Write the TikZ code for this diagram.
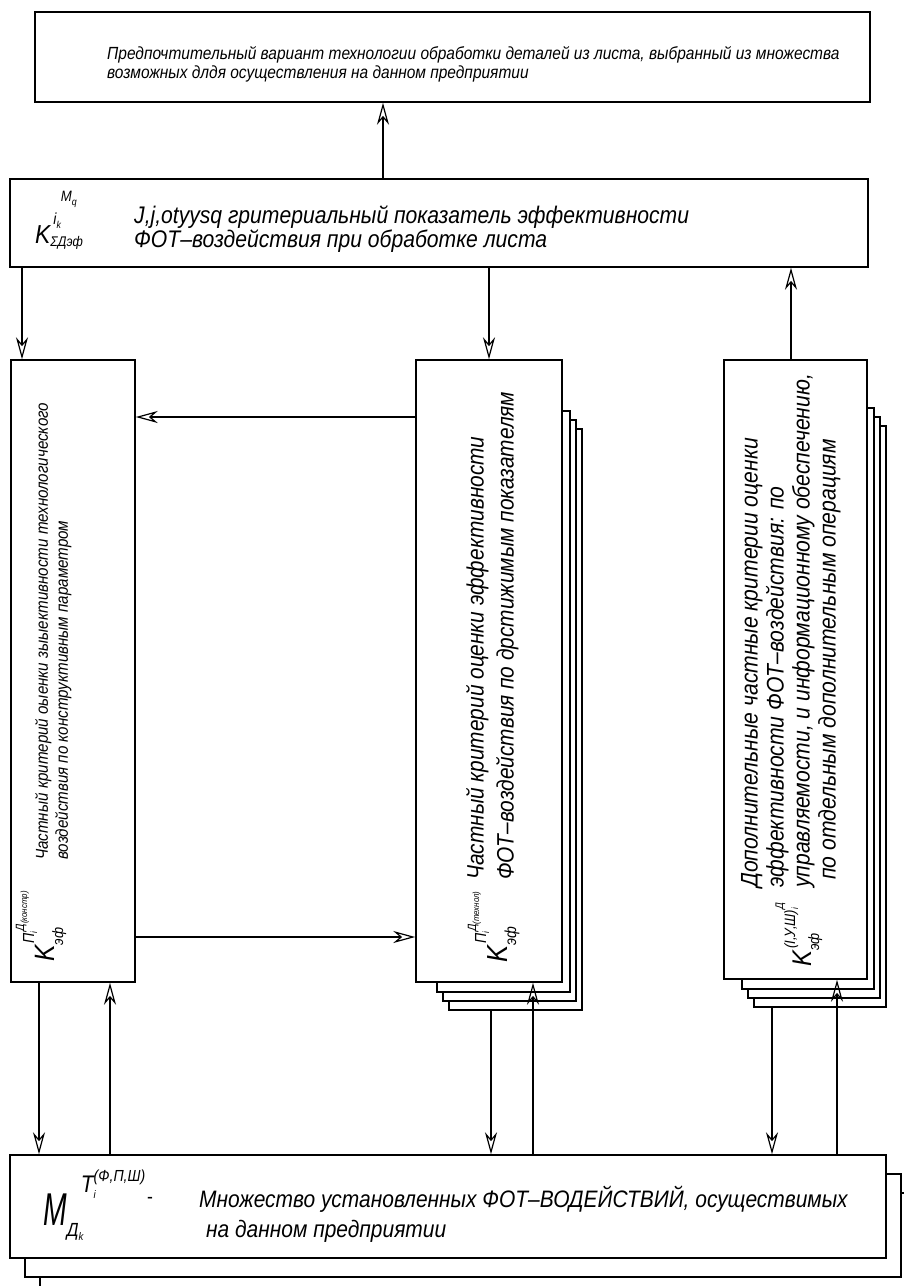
\documentclass[tikz,border=0pt]{standalone}
\usepackage{fontspec}
\setmainfont{Liberation Sans}[FakeStretch=0.88]
\usepackage{graphicx}
\usetikzlibrary{arrows.meta}
\newcommand{\fsz}[1]{\fontsize{#1}{#1}\selectfont}
\newcommand{\fsl}[2]{\fontsize{#1}{#2}\selectfont}

\begin{document}
\begin{tikzpicture}[x=1pt, y=-1pt,
  box/.style={draw, line width=1.5pt, fill=white, inner sep=0pt},
  arr/.style={-{Stealth[open, length=22pt, width=12pt, inset=7pt]}, line width=1.2pt},
  txt/.style={inner sep=0pt, align=left},
  rtxt/.style={txt, rotate=90, anchor=north west},
  formula/.style={inner sep=0pt, font=\itshape, anchor=base west}
]
\clip (0,0) rectangle (904,1286);
\fill[white] (0,0) rectangle (904,1286);

% result and summary boxes
\node[box, minimum width=835pt, minimum height=90pt] (pref) at (452.5,57) {};
\node[txt, anchor=north west, font=\itshape\fsl{17.6}{19.5}] (preftext) at (107,46)
  {Предпочтительный вариант технологии обработки деталей из листа, выбранный из множества\\возможных длдя осуществления на данном предприятии};

\node[box, minimum width=858pt, minimum height=88pt] (sum) at (439,223) {};
\node[formula] (sumf) at (35,243)
  {\fsz{26}K\rlap{\raisebox{-3pt}{\fsz{14}ΣДэф}}\hspace{3pt}\raisebox{19pt}{\fsz{16}i\raisebox{-4pt}{\fsz{10}k}\raisebox{23pt}{\fsz{15}M\raisebox{-4pt}{\fsz{10}q}}}};
\node[txt, anchor=north west, font=\itshape\fsl{24}{21}] (sumtext) at (134,206)
  {J,j,otyysq гритериальный показатель эффективности\\ФОТ–воздействия при обработке листа};

% three criteria columns
\node[box, minimum width=124pt, minimum height=622pt] (kon) at (73,671) {};
\node[rtxt, font=\itshape\fsl{17.2}{20}] (kontext) at (35,860)
  {Частный критерий оыенки зыыективности технологического\\воздействия по конструктивным параметром};
\node[formula, rotate=90] (konf) at (54,962)
  {\fsz{28}K\rlap{\raisebox{-9pt}{\fsz{15}эф}}\hspace{2pt}\raisebox{20pt}{\fsz{16}П\raisebox{-3pt}{\fsz{9}i}\raisebox{10pt}{\fsz{12}Д\raisebox{-3pt}{\fsz{9}(констр)}}}};

\foreach \k in {3,2,1}
  \node[box, minimum width=133pt, minimum height=581pt] (techs\k) at ({497.5+6*\k},{692.5+9*\k}) {};
\node[box, minimum width=146pt, minimum height=622pt] (tech) at (489,671) {};
\node[rtxt, font=\itshape\fsl{23.7}{30}] (techtext) at (466,880)
  {Частный критерий оценки эффективности\\ФОТ–воздействия по дрстижимым показателям};
\node[formula, rotate=90] (techf) at (507,963)
  {\fsz{29}K\rlap{\raisebox{-9pt}{\fsz{16}эф}}\hspace{2pt}\raisebox{21pt}{\fsz{16}П\raisebox{-3pt}{\fsz{9}i}\raisebox{10pt}{\fsz{12}Д\raisebox{-3pt}{\fsz{9}(технол)}}}};

\foreach \k in {3,2,1}
  \node[box, minimum width=132pt, minimum height=581pt] (adds\k) at ({802+6*\k},{689.5+9*\k}) {};
\node[box, minimum width=143pt, minimum height=619pt] (add) at (795.5,669.5) {};
\node[rtxt, font=\itshape\fsl{24}{26}] (addtext) at (741,888)
  {Дополнительные частные критерии оценки\\эффективности ФОТ–воздействия: по\\управляемости, и информационному обеспечению,\\\hspace{8pt}по отдельным дополнительным операциям};
\node[formula, rotate=90] (addf) at (811,967)
  {\fsz{27}K\rlap{\raisebox{-8pt}{\fsz{15}эф}}\hspace{2pt}\raisebox{16pt}{\fsz{15}(I,У,Ш)\rlap{\raisebox{-3pt}{\fsz{9}i}}\raisebox{12pt}{\fsz{11}Д}}};

% set of feasible actions
\foreach \k in {2,1}
  \node[box, minimum width=876pt, minimum height=103pt] (sets\k) at ({448+15*\k},{1206.5+19*\k}) {};
\node[box, minimum width=876pt, minimum height=103pt] (set) at (448,1206.5) {};
\node[formula] (setf) at (43,1225)
  {\scalebox{0.7}[1]{\fsz{46}M}\rlap{\raisebox{-11pt}{\fsz{19}Д\raisebox{-4pt}{\fsz{11}k}}}\hspace{14pt}\raisebox{33pt}{\fsz{24}T\rlap{\raisebox{-6pt}{\fsz{11}i}}\raisebox{11pt}{\fsz{16}(Ф,П,Ш)}}};
\node[inner sep=0pt, font=\fsz{20}] (setdash) at (150,1200) {-};
\node[txt, anchor=north west, font=\itshape\fsl{23.8}{30}] (settext) at (199,1186)
  {Множество установленных ФОТ–ВОДЕЙСТВИЙ, осуществимых\\\hspace{7pt}на данном предприятии};

% guide lines for the connectors
\coordinate (xa) at (383,0);
\coordinate (xb) at (22,0);
\coordinate (xc) at (791,0);
\coordinate (xd) at (39,0);
\coordinate (xe) at (110,0);
\coordinate (xf) at (491,0);
\coordinate (xg) at (533,0);
\coordinate (xh) at (772,0);
\coordinate (xi) at (837,0);
\coordinate (ya) at (0,417);
\coordinate (yb) at (0,937);

\draw[arr] (sum.north -| xa) -- (pref.south -| xa);
\draw[arr] (sum.south -| xb) -- (kon.north -| xb);
\draw[arr] (sum.south -| tech.north) -- (tech.north);
\draw[arr] (add.north -| xc) -- (sum.south -| xc);
\draw[arr] (tech.west |- ya) -- (kon.east |- ya);
\draw[arr] (kon.east |- yb) -- (tech.west |- yb);

\draw[arr] (kon.south -| xd) -- (set.north -| xd);
\draw[arr] (set.north -| xe) -- (kon.south -| xe);
\draw[arr] (techs3.south -| xf) -- (set.north -| xf);
\draw[arr] (set.north -| xg) -- (tech.south -| xg);
\draw[arr] (adds3.south -| xh) -- (set.north -| xh);
\draw[arr] (set.north -| xi) -- (add.south -| xi);
\end{tikzpicture}
\end{document}
